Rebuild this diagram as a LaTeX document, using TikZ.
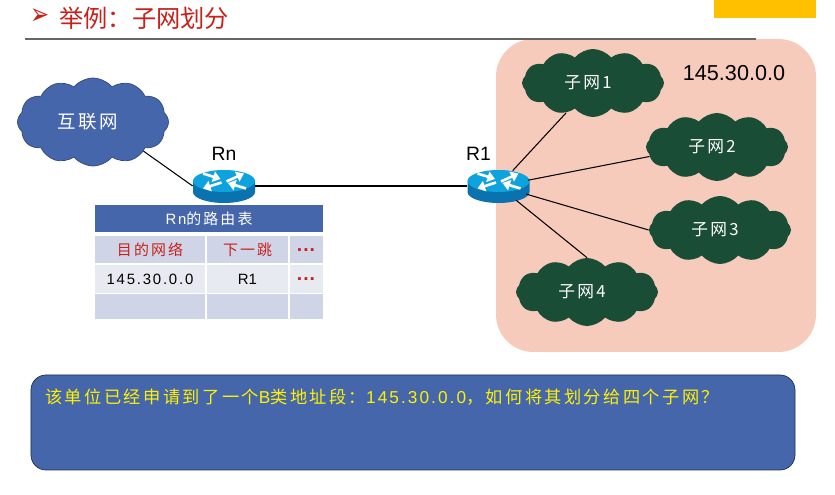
\documentclass[tikz,border=0pt]{standalone}
\usepackage{fontspec}
\setmainfont{Liberation Sans}
\newfontfamily\cjk{Noto Sans CJK SC}
\newfontfamily\cjkwide[LetterSpace=14]{Noto Sans CJK SC}
\newfontfamily\latinwide[LetterSpace=12]{Liberation Sans}
\newfontfamily\symb{DejaVu Sans}
\usetikzlibrary{arrows.meta,positioning,shapes.symbols,shapes.geometric}
\definecolor{slideBlue}{HTML}{4666AC}
\definecolor{slideRed}{HTML}{C8201A}
\definecolor{slidePink}{HTML}{F7CBBC}
\definecolor{slideOrange}{HTML}{FFC000}
\definecolor{subnetGreen}{HTML}{1A4D36}
\definecolor{rowDark}{HTML}{CFD5E6}
\definecolor{rowLight}{HTML}{E8EAF1}
\definecolor{routerTop}{HTML}{0FA3DE}
\definecolor{routerSide}{HTML}{0A72AE}
\newcommand{\rowdots}{\raisebox{-3.8pt}[1ex][1ex]{\bfseries\fontsize{11}{11}\selectfont ···}}
\tikzset{
  wolk/.style={cloud, cloud puffs=12, cloud puff arc=100, cloud ignores aspect, inner sep=0pt, execute at end node=\hspace{0.2cm}},
  subnet/.style={wolk, fill=subnetGreen, text=white, font=\cjkwide\fontsize{9.5}{11}\selectfont, minimum width=2.84cm, minimum height=1.36cm},
  routernode/.style={ellipse, minimum width=1.24cm, minimum height=0.68cm, inner sep=0pt},
  routerlabel/.style={font=\fontsize{11}{13}\selectfont, inner sep=0pt},
  cell/.style={fill=#1, inner sep=0pt, outer sep=0pt, align=center, font=\fontsize{8.5}{10}\selectfont},
  link/.style={black, line width=0.6pt},
  routerpic/.pic={
    \fill[routerSide] (-0.62,0.10) -- (-0.62,-0.12) arc (180:360:0.62 and 0.22) -- (0.62,0.10) -- cycle;
    \fill[routerTop] (0,0.10) ellipse (0.62 and 0.22);
    \begin{scope}[white, line width=1.5pt, -{Triangle[length=1.5mm,width=2.1mm]}]
      \draw (0.05,0.09) -- (0.40,0.25);
      \draw (-0.05,0.07) -- (-0.42,-0.05);
      \draw (-0.42,0.25) -- (-0.07,0.14);
      \draw (0.44,-0.05) -- (0.08,0.06);
    \end{scope}
  },
}
\begin{document}
\begin{tikzpicture}
\useasboundingbox (0,0) rectangle (16.7,9.9);

% Subnet area
\node[fill=slidePink, rounded corners=0.75cm, minimum width=6.4cm, minimum height=6.26cm, inner sep=0pt] (area) at (13.12,5.99) {};
\node[fill=slideOrange, minimum width=2.04cm, minimum height=0.36cm, inner sep=0pt] (tab) at (15.3,9.72) {};

% Title
\draw[black!60, line width=0.6pt] (0.5,9.12) -- (15.12,9.12);
\node[text=slideRed, font=\symb\fontsize{13}{15}\selectfont, inner sep=0pt, yscale=1.3, transform shape] (bullet) at (0.81,9.56) {➢};
\node[anchor=west, text=slideRed, font=\cjk\fontsize{13.8}{16}\selectfont, inner sep=0pt] (title) at (1.18,9.54) {举例：子网划分};

% Internet
\node[wolk, fill=slideBlue, draw=slideBlue!70!black, text=white, font=\cjkwide\fontsize{10.5}{12}\selectfont, minimum width=3.02cm, minimum height=1.76cm] (inet) at (1.86,7.46) {互联网};

% Routers
\node[routernode] (rn) at (4.48,6.18) {};
\node[routernode] (r1) at (9.97,6.18) {};
\pic at (rn) {routerpic};
\pic at (r1) {routerpic};
\node[routerlabel, above=1.5mm of rn] (rnlabel) {Rn};
\node[routerlabel, above=1.5mm of r1, xshift=-0.4cm] (r1label) {R1};

% Subnets
\node[subnet] (sub1) at (11.86,8.24) {子网1};
\node[subnet] (sub2) at (14.34,6.96) {子网2};
\node[subnet] (sub3) at (14.4,5.3) {子网3};
\node[subnet] (sub4) at (11.74,4.06) {子网4};
\node[font=\fontsize{12.3}{14}\selectfont, inner sep=0pt] (addr) at (14.68,8.44) {145.30.0.0};

% Links
\draw[link] (inet.330) -- (rn.west);
\draw[link] (rn) -- (r1);
\draw[link] (r1) -- (sub1.228);
\draw[link] (r1) -- (sub2.188);
\draw[link] (r1) -- (sub3.west);
\draw[link] (r1) -- (sub4.north);

% Routing table
\node[cell=slideBlue, text=white, minimum width=4.56cm, minimum height=0.54cm] (head) at (4.18,5.53) {\latinwide Rn\cjkwide 的路由表};
\node[cell=rowDark, text=slideRed, minimum width=2.2cm, minimum height=0.54cm, below=0.08cm of head.south west, anchor=north west] (a1) {\cjkwide 目的网络};
\node[cell=rowDark, text=slideRed, minimum width=1.62cm, minimum height=0.54cm, right=0.04cm of a1] (a2) {\cjkwide 下一跳};
\node[cell=rowDark, text=slideRed, minimum width=0.66cm, minimum height=0.54cm, right=0.04cm of a2] (a3) {\rowdots};
\node[cell=rowLight, minimum width=2.2cm, minimum height=0.56cm, below=0.04cm of a1] (b1) {\latinwide 145.30.0.0};
\node[cell=rowLight, minimum width=1.62cm, minimum height=0.56cm, below=0.04cm of a2] (b2) {R1};
\node[cell=rowLight, text=slideRed, minimum width=0.66cm, minimum height=0.56cm, below=0.04cm of a3] (b3) {\rowdots};
\node[cell=rowDark, minimum width=2.2cm, minimum height=0.5cm, below=0.03cm of b1] (c1) {};
\node[cell=rowDark, minimum width=1.62cm, minimum height=0.5cm, below=0.03cm of b2] (c2) {};
\node[cell=rowDark, minimum width=0.66cm, minimum height=0.5cm, below=0.03cm of b3] (c3) {};

% Question
\node[fill=slideBlue, draw=slideBlue!45!black, rounded corners=0.3cm, minimum width=15.28cm, minimum height=1.9cm, inner sep=0pt] (question) at (8.26,1.45) {};
\node[anchor=west, text=yellow, inner sep=0pt, font=\cjkwide\fontsize{9.8}{11}\selectfont] (qtext) at (0.9,1.96) {该单位已经申请到了一个{\latinwide B}类地址段：{\latinwide 145.30.0.0}，如何将其划分给四个子网？};
\end{tikzpicture}
\end{document}
